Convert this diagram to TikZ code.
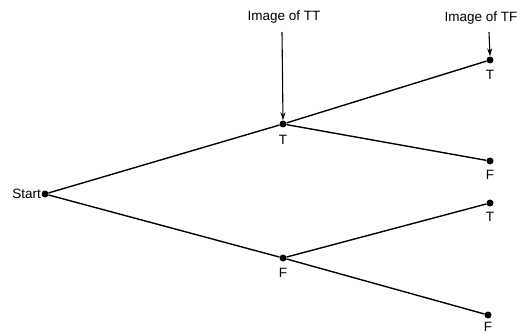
\documentclass[tikz,border=0pt]{standalone}
\usepackage{fontspec}
\setmainfont{Liberation Sans}
\usetikzlibrary{arrows.meta}
\begin{document}
\begin{tikzpicture}[x=1pt,y=-1pt,
  dotnode/.style={circle,fill=black,inner sep=0pt,minimum size=7pt},
  edge/.style={line width=1.4pt},
  lbl/.style={font=\fontsize{13.5}{15}\selectfont,inner sep=1pt},
  pointer/.style={line width=1.1pt,-{Stealth[length=8pt,width=5pt]}}]
\useasboundingbox (0,0) rectangle (522,334);
\node[dotnode] (s) at (45,194) {};
\node[dotnode] (t) at (283,124) {};
\node[dotnode] (f) at (283,258) {};
\node[dotnode] (tt) at (490,60) {};
\node[dotnode] (tf) at (490,161) {};
\node[dotnode] (ft) at (490,203) {};
\node[dotnode] (ff) at (488,315) {};
\node[lbl,anchor=east] (slbl) at (42,194) {Start};
\node[lbl] (tl) at (283,140) {T};
\node[lbl] (fl) at (283,273) {F};
\node[lbl] (ttl) at (490,75) {T};
\node[lbl] (tfl) at (490,175) {F};
\node[lbl] (ftl) at (490,217) {T};
\node[lbl,inner sep=0pt] (ffl) at (488,327) {F};
\node[lbl] (img1) at (284,17) {Image of TT};
\node[lbl] (img2) at (481,18) {Image of TF};
\draw[edge] (s) -- (t);
\draw[edge] (s) -- (f);
\draw[edge] (t) -- (tt);
\draw[edge] (t) -- (tf);
\draw[edge] (f) -- (ft);
\draw[edge] (f) -- (ff);
\coordinate (a1) at (282,32);
\coordinate (a2) at (489,32);
\draw[pointer] (a1) -- (t.north);
\draw[pointer] (a2) -- (tt.north);
\end{tikzpicture}
\end{document}
